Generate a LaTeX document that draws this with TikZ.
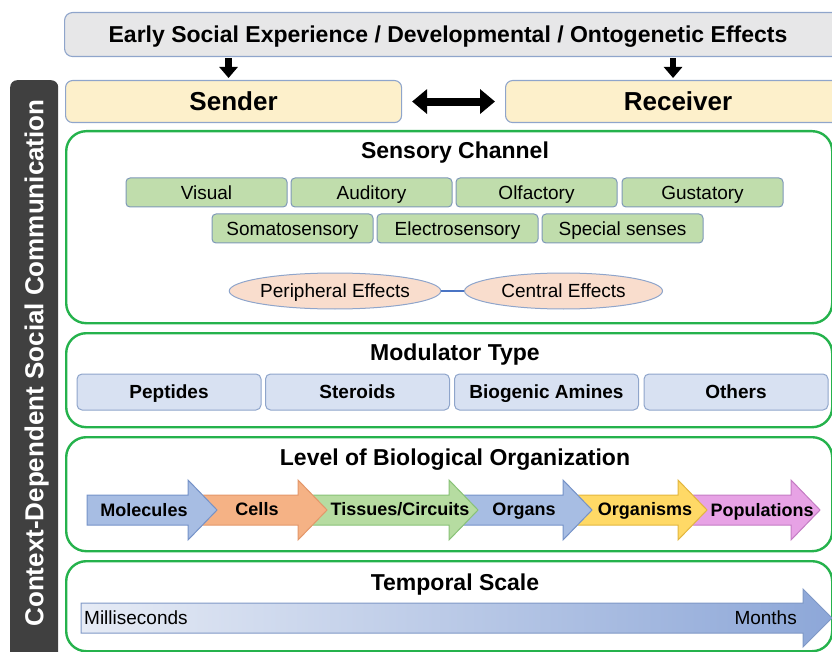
\documentclass[tikz,border=0pt]{standalone}
\usepackage{fontspec}
\setmainfont{Liberation Sans}
\usetikzlibrary{arrows.meta,shapes.geometric}

\definecolor{topfill}{HTML}{E7E7E8}
\definecolor{boxline}{HTML}{8FA5CB}
\definecolor{partyfill}{HTML}{FDF0CB}
\definecolor{panelgreen}{HTML}{25B24C}
\definecolor{sensefill}{HTML}{C0DDAC}
\definecolor{senseline}{HTML}{7E98B8}
\definecolor{effectfill}{HTML}{F9DDCD}
\definecolor{linkblue}{HTML}{4A74C4}
\definecolor{modfill}{HTML}{D8E1F2}
\definecolor{barfill}{HTML}{404040}
\definecolor{bluef}{HTML}{A7BDE3}
\definecolor{blued}{HTML}{7592C8}
\definecolor{cellf}{HTML}{F5B285}
\definecolor{celld}{HTML}{E3976A}
\definecolor{tisf}{HTML}{B6DCA1}
\definecolor{tisd}{HTML}{89C277}
\definecolor{orgsf}{HTML}{FFD966}
\definecolor{orgsd}{HTML}{E2B63E}
\definecolor{popf}{HTML}{E7A2E5}
\definecolor{popd}{HTML}{C47CC4}
\definecolor{templ}{HTML}{E6EBF5}
\definecolor{tempr}{HTML}{8DA7D8}
\definecolor{tempd}{HTML}{7F98C6}

\newcommand\setfs[1]{\fontsize{#1}{#1}\selectfont}

\begin{document}
\begin{tikzpicture}[x=1pt,y=-1pt,
  % fixed text boxes so that caps sit on the node centre
  sz26/.style={font=\bfseries\setfs{26}, text height=23.4pt, text depth=4.7pt},
  sz23/.style={font=\bfseries\setfs{23}, text height=20.7pt, text depth=4.1pt},
  sz19/.style={font=\setfs{19}, text height=17.1pt, text depth=3.4pt},
  sz19b/.style={font=\bfseries\setfs{19}, text height=17.1pt, text depth=3.4pt},
  sz18b/.style={font=\bfseries\setfs{18}, text height=16.2pt, text depth=3.2pt},
  topbox/.style={draw=boxline, fill=topfill, line width=1.1pt, rounded corners=8pt, inner sep=0pt},
  party/.style={draw=boxline, fill=partyfill, line width=1.1pt, rounded corners=7pt, inner sep=0pt,
    minimum height=42pt, anchor=north west, sz26},
  panel/.style={draw=panelgreen, line width=2.4pt, rounded corners=20pt, inner sep=0pt,
    minimum width=766pt, anchor=north west},
  paneltitle/.style={sz23, inner sep=0pt},
  sense/.style={draw=senseline, fill=sensefill, line width=1pt, rounded corners=4pt, inner sep=0pt,
    minimum width=161pt, minimum height=29pt, sz19},
  effect/.style={ellipse, draw=boxline, fill=effectfill, line width=1pt, inner sep=0pt,
    minimum height=36pt, sz19},
  modbox/.style={draw=boxline, fill=modfill, line width=1pt, rounded corners=5pt, inner sep=0pt,
    minimum width=184pt, minimum height=36pt, sz19b},
  levellabel/.style={sz18b, inner sep=0pt},
  templabel/.style={sz19, inner sep=0pt},
  thickarrow/.style={line width=6.5pt, -{Triangle[length=11pt,width=18pt]}},
  dblarrow/.style={line width=8pt, {Triangle[length=15pt,width=24pt]}-{Triangle[length=15pt,width=24pt]}}
]
\useasboundingbox (0,0) rectangle (832,652);

% side bar
\node[fill=barfill, rounded corners=7pt, inner sep=0pt, minimum width=48pt, minimum height=590pt,
  anchor=north west] (bar) at (10,80) {};
\node[rotate=90, text=white, sz26, inner sep=0pt] (barlabel) at (34,363)
  {Context-Dependent Social Communication};

% early experience, sender and receiver
\node[topbox, minimum width=776pt, minimum height=44pt, anchor=north west] (top) at (64,12) {};
\node[sz23, inner sep=0pt] (toplabel) at (448,34)
  {Early Social Experience / Developmental / Ontogenetic Effects};
\node[party, minimum width=336pt] (sender) at (65,80) {Sender};
\node[party, minimum width=345pt] (receiver) at (505,80) {Receiver};

\draw[thickarrow, shorten <=1pt, shorten >=2pt]
  ([xshift=-5pt]sender.north |- top.south) -- ([xshift=-5pt]sender.north);
\draw[thickarrow, shorten <=1pt, shorten >=2pt]
  ([xshift=-5pt]receiver.north |- top.south) -- ([xshift=-5pt]receiver.north);
\draw[dblarrow, shorten <=10pt, shorten >=10pt] (sender.east) -- (receiver.west);

% sensory channel
\node[panel, minimum height=192pt] (sensory) at (65,130) {};
\node[paneltitle] (sensorytitle) at (455,150) {Sensory Channel};
\node[sense] (visual) at (206.5,192.5) {Visual};
\node[sense] (auditory) at (371.5,192.5) {Auditory};
\node[sense] (olfactory) at (536.5,192.5) {Olfactory};
\node[sense] (gustatory) at (702.5,192.5) {Gustatory};
\node[sense] (somato) at (292.5,228.5) {Somatosensory};
\node[sense] (electro) at (457.5,228.5) {Electrosensory};
\node[sense] (special) at (622.5,228.5) {Special senses};
\node[effect, minimum width=200pt] (peripheral) at (335,291) {Peripheral Effects};
\node[effect, minimum width=198pt] (central) at (563.5,291) {Central Effects};
\draw[linkblue, line width=1.6pt] (peripheral) -- (central);

% modulator type
\node[panel, minimum height=94pt] (modulator) at (65,332) {};
\node[paneltitle] (modtitle) at (455,352) {Modulator Type};
\node[modbox] (peptides) at (169,392) {Peptides};
\node[modbox] (steroids) at (357.5,392) {Steroids};
\node[modbox] (amines) at (546.5,392) {Biogenic Amines};
\node[modbox] (others) at (736,392) {Others};

% level of biological organization: block arrows, each tail tucked under the previous head
\node[panel, minimum height=114pt] (level) at (65,436) {};
\node[paneltitle] (leveltitle) at (455,457) {Level of Biological Organization};
\foreach \tail/\tip/\fc/\dc in {690/820/popf/popd, 575/707/orgsf/orgsd, 460/592/bluef/blued,
                                310/478/tisf/tisd, 200/327/cellf/celld, 87/217/bluef/blued}
  \draw[fill=\fc, draw=\dc, line width=1pt, line join=miter]
    (\tail,495) -- (\tip-29,495) -- (\tip-29,480) -- (\tip,510)
    -- (\tip-29,540) -- (\tip-29,525) -- (\tail,525) -- cycle;
\node[levellabel] (molecules) at (144,510) {Molecules};
\node[levellabel] (cells) at (257,509) {Cells};
\node[levellabel] (tissues) at (400,509) {Tissues/Circuits};
\node[levellabel] (organs) at (524,509) {Organs};
\node[levellabel] (organisms) at (645,509) {Organisms};
\node[levellabel] (populations) at (762,510) {Populations};

% temporal scale
\node[panel, minimum height=90pt] (temporal) at (65,560) {};
\node[paneltitle] (temptitle) at (455,582) {Temporal Scale};
\draw[draw=tempd, line width=1pt, left color=templ, right color=tempr]
  (81,603) -- (803,603) -- (803,589) -- (832,618) -- (803,647) -- (803,633) -- (81,633) -- cycle;
\node[templabel, anchor=west] (millis) at (84,618) {Milliseconds};
\node[templabel, anchor=east] (months) at (797,618) {Months};
\end{tikzpicture}
\end{document}
